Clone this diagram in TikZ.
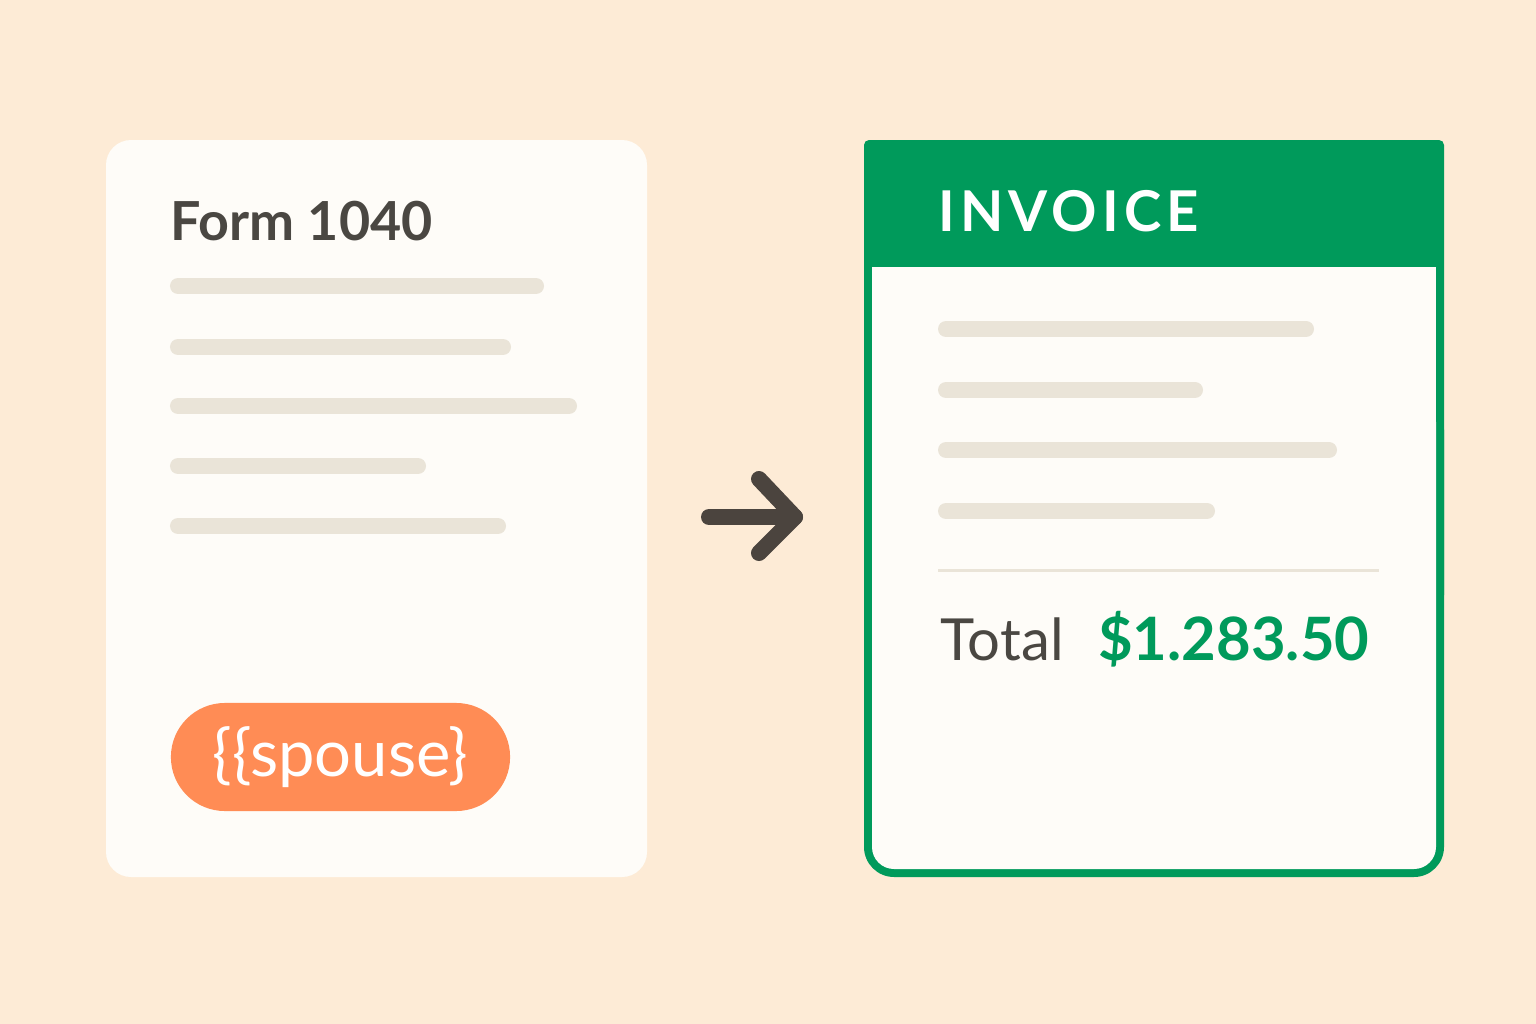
\documentclass[tikz,border=0pt]{standalone}
\usepackage{fontspec}
\setmainfont{Lato}
\usetikzlibrary{positioning}

\definecolor{peach}{HTML}{FDEBD6}
\definecolor{paper}{HTML}{FEFCF8}
\definecolor{skelgray}{HTML}{EAE4D8}
\definecolor{inkdark}{HTML}{4A4742}
\definecolor{pillorange}{HTML}{FF8C55}
\definecolor{invgreen}{HTML}{009A5B}
\definecolor{arrowdark}{HTML}{4B443E}

\tikzset{
  skel/.style={draw=skelgray, line width=0.16cm, line cap=round},
  pill/.style={fill=pillorange, text=white, rounded corners=0.54cm,
    minimum width=3.39cm, minimum height=1.08cm, inner sep=0pt,
    font=\fontsize{18.5}{22}\selectfont},
  flow/.style={draw=arrowdark, line width=0.16cm, line cap=round, line join=round}
}

\begin{document}
\begin{tikzpicture}[x=0.01cm, y=-0.01cm]
	\fill[peach] (0,0) rectangle (1536,1024);
	\useasboundingbox (0,0) rectangle (1536,1024);

	% template side
	\fill[paper, rounded corners=0.25cm] (106,140) rectangle (647,877);
	\node[anchor=base west, inner sep=0pt, text=inkdark,
		font=\fontsize{15.3}{18}\selectfont\bfseries] (formtitle) at (170,240) {Form 1040};
	\foreach \y/\len in {286/544, 347/511, 406/577, 466/426, 526/506}{
		\draw[skel] (178,\y) -- (\len-8,\y);
	}
	\node[pill] (spouse) at (340.5,757) {\{\{spouse\}};

	% arrow
	\coordinate (arrS) at (709,517);
	\coordinate (arrE) at (795,517);
	\draw[flow] (arrS) -- (arrE);
	\draw[flow] ([shift={(-36,-38)}]arrE) -- (arrE) -- ([shift={(-36,36)}]arrE);

	% invoice side
	\fill[invgreen, rounded corners=0.3cm] (864,400) rectangle (1444,877);
	\fill[invgreen, rounded corners=0.05cm] (864,140) rectangle (1444,600);
	\fill[paper, rounded corners=0.22cm] (872,400) rectangle (1436,869);
	\fill[paper] (872,267) rectangle (1436,500);
	\node[anchor=base west, inner sep=0pt, text=white,
		font=\fontsize{16}{19}\selectfont\bfseries\addfontfeature{LetterSpace=9}] (invtitle) at (938,231) {INVOICE};
	\foreach \y/\len in {329/1314, 390/1203, 450/1337, 511/1215}{
		\draw[skel] (946,\y) -- (\len-8,\y);
	}
	\draw[skelgray, line width=0.03cm] (938,570) -- (1379,570);
	\node[anchor=base west, inner sep=0pt, text=inkdark,
		font=\fontsize{16.5}{20}\selectfont] (total) at (940,660) {Total};
	\node[anchor=base east, inner sep=0pt, text=invgreen,
		font=\fontsize{17}{20}\selectfont\bfseries] (amount) at (1370,660) {\$1.283.50};
\end{tikzpicture}
\end{document}
